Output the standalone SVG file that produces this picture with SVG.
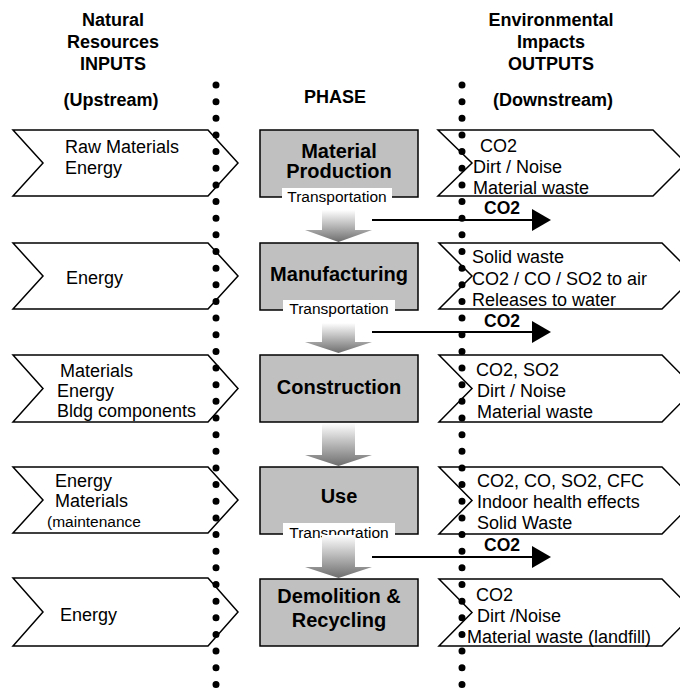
<svg xmlns="http://www.w3.org/2000/svg" width="680" height="688" viewBox="0 0 680 688">
<style>
text{font-family:"Liberation Sans",Arial,sans-serif;fill:#000}
.h{font-size:18px;font-weight:bold;text-anchor:middle}
.t{font-size:18px}
.s{font-size:15.5px}
.b{font-size:20px;font-weight:bold;text-anchor:middle}
.tr{font-size:15.5px;text-anchor:middle}
.co{font-size:17.5px;font-weight:bold}
.chev{fill:#fff;stroke:#000;stroke-width:1.5}
.box{fill:#c0c0c0;stroke:#000;stroke-width:1.5}
.lbl{fill:#fff;stroke:none}
.dots{stroke:#000;stroke-width:7;stroke-linecap:round;stroke-dasharray:0 16.65;fill:none}
.flow{fill:url(#g)}
.co2line{stroke:#000;stroke-width:2;fill:none}
</style>
<defs>
<linearGradient id="g" x1="0" y1="0" x2="0" y2="1">
<stop offset="0" stop-color="#ffffff"/>
<stop offset="1" stop-color="#6e6e6e"/>
</linearGradient>
</defs>
<rect width="680" height="688" fill="#fff"/>

<g id="headers">
<text class="h" x="113" y="26">Natural</text>
<text class="h" x="113" y="48">Resources</text>
<text class="h" x="113" y="70">INPUTS</text>
<text class="h" x="111" y="106">(Upstream)</text>
<text class="h" x="335" y="103">PHASE</text>
<text class="h" x="551" y="26">Environmental</text>
<text class="h" x="551" y="48">Impacts</text>
<text class="h" x="551" y="70">OUTPUTS</text>
<text class="h" x="553" y="106">(Downstream)</text>
</g>

<g id="in1"><polygon class="chev" points="13,130 208,130 238,163 208,196 13,196 43,163"/>
<text class="t" x="65" y="153">Raw Materials</text><text class="t" x="65" y="174">Energy</text></g>
<g id="in2"><polygon class="chev" points="13,243 208,243 238,276 208,309 13,309 43,276"/>
<text class="t" x="66" y="284">Energy</text></g>
<g id="in3"><polygon class="chev" points="13,355 208,355 238,388.5 208,422 13,422 43,388.5"/>
<text class="t" x="60" y="377">Materials</text><text class="t" x="57" y="397">Energy</text><text class="t" x="57" y="417">Bldg components</text></g>
<g id="in4"><polygon class="chev" points="13,467 208,467 238,500 208,533 13,533 43,500"/>
<text class="t" x="55" y="487">Energy</text><text class="t" x="55" y="507">Materials</text><text class="s" x="47" y="527">(maintenance</text></g>
<g id="in5"><polygon class="chev" points="13,578 208,578 238,612 208,646 13,646 43,612"/>
<text class="t" x="60" y="621">Energy</text></g>

<g id="out1"><polygon class="chev" points="438,130 653,130 686,163 653,196 438,196 472,163"/>
<text class="t" x="480" y="152">CO2</text><text class="t" x="473" y="173">Dirt / Noise</text><text class="t" x="473" y="194">Material waste</text></g>
<g id="out2"><polygon class="chev" points="439,243 662,243 695,276 662,309 439,309 472,276"/>
<text class="t" x="472" y="263">Solid waste</text><text class="t" x="472" y="285">CO2 / CO / SO2 to air</text><text class="t" x="472" y="306">Releases to water</text></g>
<g id="out3"><polygon class="chev" points="439,355 662,355 695,388.5 662,422 439,422 472,388.5"/>
<text class="t" x="476" y="376">CO2, SO2</text><text class="t" x="477" y="397">Dirt / Noise</text><text class="t" x="477" y="418">Material waste</text></g>
<g id="out4"><polygon class="chev" points="439,467 662,467 695,500.5 662,534 439,534 472,500.5"/>
<text class="t" x="477" y="487">CO2, CO, SO2, CFC</text><text class="t" x="477" y="508">Indoor health effects</text><text class="t" x="477" y="529">Solid Waste</text></g>
<g id="out5"><polygon class="chev" points="439,579 662,579 695,612.5 662,646 439,646 472,612.5"/>
<text class="t" x="476" y="601">CO2</text><text class="t" x="477" y="622">Dirt /Noise</text><text class="t" x="467" y="643">Material waste (landfill)</text></g>

<g id="phase1"><rect class="box" x="260" y="130" width="158" height="67"/>
<text class="b" x="339" y="158">Material</text><text class="b" x="339" y="178">Production</text>
<rect class="lbl" x="282" y="188" width="110" height="18"/><text class="tr" x="337" y="202">Transportation</text></g>
<g id="phase2"><rect class="box" x="260" y="243" width="158" height="67"/>
<text class="b" x="339" y="281">Manufacturing</text>
<rect class="lbl" x="283" y="300" width="112" height="18"/><text class="tr" x="339" y="314">Transportation</text></g>
<g id="phase3"><rect class="box" x="260" y="355" width="158" height="67"/>
<text class="b" x="339" y="394">Construction</text></g>
<g id="phase4"><rect class="box" x="260" y="467" width="158" height="67"/>
<text class="b" x="339" y="503">Use</text>
<rect class="lbl" x="283" y="523" width="112" height="18"/><text class="tr" x="339" y="538">Transportation</text></g>
<g id="phase5"><rect class="box" x="260" y="579" width="158" height="67"/>
<text class="b" x="339" y="603">Demolition &amp;</text><text class="b" x="339" y="627">Recycling</text></g>

<g id="connectors">
<polygon class="flow" points="322,210 355,210 355,230 372,230 338.5,242 305,230 322,230"/>
<polygon class="flow" points="322,323 355,323 355,342 372,342 338.5,353 305,342 322,342"/>
<polygon class="flow" points="322,423 355,423 355,455 372,455 338.5,466 305,455 322,455"/>
<polygon class="flow" points="322,535 355,535 355,567 372,567 338.5,578 305,567 322,567"/>
<line class="co2line" x1="372" y1="220" x2="535" y2="220"/>
<polygon points="532,209 551,220 532,231" fill="#000"/>
<text class="co" x="484" y="214">CO2</text>
<line class="co2line" x1="372" y1="332" x2="535" y2="332"/>
<polygon points="532,321 551,332 532,343" fill="#000"/>
<text class="co" x="484" y="327">CO2</text>
<line class="co2line" x1="372" y1="557" x2="535" y2="557"/>
<polygon points="532,546 551,557 532,568" fill="#000"/>
<text class="co" x="484" y="551">CO2</text>
</g>

<g id="dividers">
<line class="dots" x1="216" y1="85" x2="216" y2="688"/>
<line class="dots" x1="462" y1="85" x2="462" y2="688"/>
</g>
</svg>
